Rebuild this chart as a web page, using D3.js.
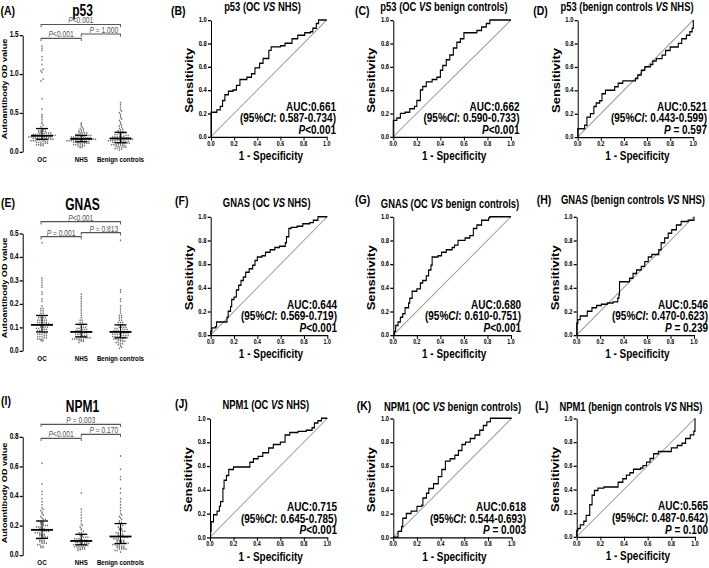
<!DOCTYPE html>
<html><head><meta charset="utf-8">
<script src="https://cdn.jsdelivr.net/npm/d3@7"></script>
<style>body{margin:0;background:#fff}svg{display:block}text{font-family:Arial,"Liberation Sans",Helvetica,sans-serif}</style>
</head><body><svg id="c" width="709" height="568"></svg>
<script>
// ---------------- DATA ----------------
const groups = ["OC", "NHS", "Benign controls"];

const p53_OC = [1.36,1.33,1.30,1.22,1.18,1.12,1.06,1.04,1.02,0.93,0.91,0.68,0.55,0.48,0.46,0.44,0.41,0.38,0.36,0.34,0.32,0.30,0.29,0.28,
  0.27,0.27,0.26,0.26,0.25,0.25,0.24,0.24,0.24,0.23,0.23,0.23,0.22,0.22,0.22,0.21,0.21,0.21,0.21,0.20,0.20,0.20,0.20,0.19,0.19,0.19,0.19,0.19,
  0.18,0.18,0.18,0.18,0.18,0.17,0.17,0.17,0.17,0.16,0.16,0.16,0.16,0.15,0.15,0.15,0.15,0.14,0.14,0.14,0.13,0.13,0.13,0.12,0.12,0.12,0.11,0.11,0.10,0.10,0.09,0.09,0.08,0.08];
const p53_NHS = [0.37,0.35,0.33,0.31,0.30,0.29,0.28,0.27,0.26,0.25,0.25,0.24,0.24,0.23,0.23,0.22,0.22,0.21,0.21,0.21,0.20,0.20,0.20,0.19,0.19,0.19,0.19,
  0.18,0.18,0.18,0.18,0.17,0.17,0.17,0.17,0.17,0.16,0.16,0.16,0.16,0.16,0.15,0.15,0.15,0.15,0.15,0.14,0.14,0.14,0.14,0.13,0.13,0.13,0.13,
  0.12,0.12,0.12,0.12,0.11,0.11,0.11,0.10,0.10,0.10,0.09,0.09,0.08,0.08,0.07,0.07,0.06,0.05];
const p53_Benign = [0.63,0.60,0.57,0.54,0.52,0.50,0.48,0.46,0.44,0.42,0.40,0.38,0.36,0.34,0.33,0.31,0.30,0.29,0.28,0.27,0.26,0.25,0.25,0.24,0.24,0.23,0.23,
  0.22,0.22,0.21,0.21,0.20,0.20,0.20,0.19,0.19,0.19,0.18,0.18,0.18,0.18,0.17,0.17,0.17,0.17,0.16,0.16,0.16,0.16,0.15,0.15,0.15,0.15,0.14,0.14,0.14,0.14,
  0.13,0.13,0.13,0.13,0.12,0.12,0.12,0.12,0.11,0.11,0.11,0.10,0.10,0.10,0.09,0.09,0.09,0.08,0.08,0.08,0.07,0.07,0.06,0.06,0.05,0.05,0.04,0.04,0.03,0.02];

const gnas_OC = [0.46,0.31,0.30,0.29,0.28,0.27,0.25,0.24,0.22,0.21,0.19,0.18,0.18,0.17,0.17,0.16,0.16,0.15,0.15,0.15,0.14,0.14,0.14,0.14,0.13,0.13,0.13,0.13,0.13,
  0.12,0.12,0.12,0.12,0.12,0.115,0.115,0.11,0.11,0.11,0.11,0.11,0.105,0.105,0.10,0.10,0.10,0.10,0.095,0.095,0.09,0.09,0.09,0.085,0.085,0.08,0.08,0.08,
  0.075,0.075,0.07,0.07,0.07,0.065,0.065,0.06,0.06,0.06,0.055,0.055,0.05,0.05,0.05,0.045,0.045,0.04];
const gnas_NHS = [0.24,0.23,0.22,0.21,0.20,0.19,0.18,0.17,0.16,0.15,0.14,0.13,0.13,0.12,0.12,0.11,0.11,0.11,0.10,0.10,0.10,0.095,0.095,0.09,0.09,0.09,
  0.085,0.085,0.085,0.08,0.08,0.08,0.08,0.075,0.075,0.075,0.07,0.07,0.07,0.065,0.065,0.065,0.06,0.06,0.06,0.055,0.055,0.055,0.055,
  0.05,0.05,0.05,0.05,0.05,0.045,0.045,0.045,0.04,0.04,0.035];
const gnas_Benign = [0.47,0.26,0.25,0.22,0.21,0.19,0.18,0.17,0.16,0.15,0.15,0.14,0.14,0.13,0.13,0.12,0.12,0.12,0.11,0.11,0.11,0.10,0.10,0.10,0.10,
  0.095,0.095,0.09,0.09,0.09,0.09,0.085,0.085,0.085,0.08,0.08,0.08,0.08,0.08,0.075,0.075,0.075,0.075,0.07,0.07,0.07,0.07,0.065,0.065,0.065,0.065,
  0.06,0.06,0.06,0.06,0.055,0.055,0.055,0.05,0.05,0.05,0.05,0.045,0.045,0.045,0.04,0.04,0.04,0.035,0.035,0.03,0.03,0.025,0.02,0.015,0.01];

const npm1_OC = [0.62,0.48,0.43,0.41,0.38,0.36,0.34,0.32,0.31,0.30,0.29,0.28,0.27,0.26,0.25,0.24,0.24,0.23,0.23,0.22,0.22,0.21,0.21,0.20,0.20,0.20,
  0.19,0.19,0.19,0.18,0.18,0.18,0.17,0.17,0.17,0.17,0.16,0.16,0.16,0.16,0.15,0.15,0.15,0.14,0.14,0.14,0.13,0.13,0.13,0.12,0.12,0.12,
  0.11,0.11,0.11,0.10,0.10,0.10,0.09,0.09,0.09,0.08,0.08,0.08,0.07,0.07,0.06,0.06,0.05,0.05];
const npm1_NHS = [0.42,0.31,0.29,0.27,0.25,0.23,0.21,0.20,0.19,0.18,0.17,0.16,0.15,0.15,0.14,0.14,0.13,0.13,0.12,0.12,0.12,0.11,0.11,0.11,0.11,
  0.10,0.10,0.10,0.10,0.095,0.095,0.09,0.09,0.09,0.09,0.085,0.085,0.08,0.08,0.08,0.075,0.075,0.07,0.07,0.07,0.065,0.065,0.06,0.06,0.06,
  0.055,0.055,0.05,0.05,0.045,0.045,0.04,0.04,0.035,0.03];
const npm1_Benign = [0.67,0.58,0.53,0.51,0.45,0.42,0.38,0.36,0.34,0.32,0.30,0.28,0.27,0.26,0.25,0.24,0.23,0.22,0.22,0.21,0.20,0.20,0.19,0.18,0.18,
  0.17,0.17,0.16,0.16,0.15,0.15,0.15,0.14,0.14,0.14,0.13,0.13,0.13,0.12,0.12,0.12,0.12,0.11,0.11,0.11,0.10,0.10,0.10,0.10,0.09,0.09,0.09,0.09,
  0.08,0.08,0.08,0.08,0.07,0.07,0.07,0.07,0.06,0.06,0.06,0.06,0.05,0.05,0.05,0.05,0.04,0.04,0.04,0.04,0.03,0.03,0.02];

const scatterTitles = ["p53", "GNAS", "NPM1"];
const scatterMax = [1.5, 0.5, 0.8];
const scatterTicks = [[0, 0.5, 1.0, 1.5], [0, 0.1, 0.2, 0.3, 0.4, 0.5], [0, 0.2, 0.4, 0.6, 0.8]];
const pTop = ["P<0.001", "P<0.001", "P = 0.003"];
const pLeft = ["P<0.001", "P = 0.001", "P<0.001"];
const pRight = ["P = 1.000", "P = 0.813", "P = 0.170"];

const rocB = [[0,0],[0,0.21],[0.05,0.23],[0.08,0.26],[0.10,0.31],[0.12,0.36],[0.15,0.39],[0.19,0.40],[0.22,0.44],[0.25,0.49],[0.31,0.51],[0.35,0.54],[0.38,0.59],[0.42,0.63],[0.45,0.67],[0.50,0.74],[0.52,0.77],[0.60,0.78],[0.64,0.80],[0.70,0.84],[0.75,0.87],[0.81,0.89],[0.86,0.90],[0.88,0.93],[0.91,0.97],[0.93,1.0],[1,1]];
const rocC = [[0,0],[0,0.14],[0.03,0.16],[0.06,0.20],[0.10,0.21],[0.14,0.24],[0.18,0.26],[0.20,0.31],[0.23,0.40],[0.25,0.43],[0.28,0.47],[0.33,0.49],[0.37,0.51],[0.40,0.57],[0.42,0.61],[0.45,0.66],[0.48,0.70],[0.51,0.76],[0.54,0.81],[0.57,0.84],[0.60,0.89],[0.68,0.89],[0.71,0.91],[0.75,0.94],[0.79,0.97],[0.82,1.0],[1,1]];
const rocD = [[0,0],[0,0.07],[0.05,0.07],[0.06,0.10],[0.08,0.17],[0.11,0.20],[0.14,0.26],[0.16,0.29],[0.19,0.31],[0.21,0.37],[0.24,0.40],[0.29,0.40],[0.32,0.43],[0.35,0.46],[0.39,0.48],[0.47,0.48],[0.50,0.50],[0.52,0.53],[0.55,0.57],[0.58,0.60],[0.63,0.62],[0.65,0.65],[0.68,0.67],[0.73,0.70],[0.76,0.74],[0.80,0.77],[0.84,0.77],[0.87,0.80],[0.90,0.84],[0.94,0.87],[0.97,0.90],[0.99,0.93],[1,1]];
const rocF = [[0,0],[0,0.03],[0.01,0.06],[0.04,0.07],[0.05,0.11],[0.11,0.11],[0.14,0.15],[0.15,0.20],[0.17,0.24],[0.18,0.30],[0.20,0.32],[0.22,0.38],[0.24,0.42],[0.26,0.46],[0.28,0.49],[0.30,0.53],[0.33,0.56],[0.36,0.59],[0.38,0.63],[0.40,0.66],[0.44,0.67],[0.47,0.70],[0.51,0.72],[0.55,0.74],[0.59,0.75],[0.64,0.78],[0.65,0.83],[0.67,0.90],[0.69,0.91],[0.74,0.92],[0.79,0.94],[0.85,0.95],[0.88,0.97],[0.92,1.0],[1,1]];
const rocG = [[0,0],[0.01,0.03],[0.02,0.08],[0.04,0.11],[0.06,0.15],[0.08,0.18],[0.10,0.23],[0.13,0.27],[0.14,0.31],[0.16,0.37],[0.20,0.39],[0.23,0.44],[0.25,0.46],[0.28,0.50],[0.30,0.55],[0.32,0.59],[0.33,0.66],[0.38,0.67],[0.41,0.70],[0.45,0.72],[0.50,0.74],[0.52,0.76],[0.55,0.80],[0.61,0.82],[0.65,0.84],[0.68,0.90],[0.71,0.93],[0.75,0.97],[0.81,0.99],[0.82,1.0],[1,1]];
const rocH = [[0,0],[0,0.10],[0.01,0.13],[0.03,0.16],[0.07,0.16],[0.09,0.20],[0.13,0.23],[0.17,0.25],[0.21,0.26],[0.26,0.27],[0.31,0.28],[0.35,0.31],[0.36,0.34],[0.365,0.45],[0.44,0.45],[0.45,0.48],[0.48,0.52],[0.51,0.55],[0.55,0.58],[0.58,0.62],[0.61,0.66],[0.64,0.68],[0.67,0.68],[0.70,0.72],[0.72,0.78],[0.75,0.82],[0.78,0.86],[0.81,0.89],[0.85,0.93],[0.89,0.96],[0.95,0.97],[1.0,0.99],[1,1]];
const rocJ = [[0,0],[0.005,0.05],[0.01,0.13],[0.03,0.19],[0.06,0.22],[0.08,0.26],[0.09,0.30],[0.11,0.41],[0.12,0.48],[0.14,0.52],[0.16,0.57],[0.20,0.59],[0.31,0.59],[0.34,0.63],[0.37,0.66],[0.41,0.68],[0.45,0.71],[0.50,0.75],[0.54,0.78],[0.60,0.80],[0.64,0.86],[0.68,0.88],[0.75,0.89],[0.82,0.90],[0.87,0.92],[0.89,0.96],[0.92,0.98],[0.95,1.0],[1,1]];
const rocK = [[0,0],[0.03,0],[0.04,0.05],[0.07,0.09],[0.08,0.16],[0.11,0.20],[0.15,0.22],[0.20,0.26],[0.24,0.27],[0.25,0.33],[0.28,0.37],[0.30,0.41],[0.34,0.45],[0.38,0.51],[0.41,0.57],[0.44,0.64],[0.48,0.66],[0.52,0.69],[0.55,0.73],[0.58,0.78],[0.61,0.80],[0.65,0.83],[0.69,0.86],[0.73,0.90],[0.76,0.94],[0.79,0.97],[0.82,1.0],[1,1]];
const rocL = [[0,0],[0,0.05],[0.01,0.07],[0.03,0.10],[0.06,0.13],[0.08,0.18],[0.11,0.27],[0.13,0.35],[0.15,0.39],[0.18,0.41],[0.23,0.42],[0.32,0.42],[0.35,0.46],[0.39,0.49],[0.42,0.52],[0.45,0.54],[0.48,0.57],[0.54,0.58],[0.56,0.60],[0.59,0.63],[0.62,0.66],[0.65,0.70],[0.69,0.72],[0.76,0.72],[0.80,0.75],[0.85,0.77],[0.89,0.79],[0.92,0.83],[0.96,0.86],[0.99,0.89],[1,1]];

const rocMarker = ["p53","p53","p53","GNAS","GNAS","GNAS","NPM1","NPM1","NPM1"];
const rocCompA = ["OC","OC","benign controls","OC","OC","benign controls","OC","OC","benign controls"];
const rocCompB = ["NHS","benign controls","NHS","NHS","benign controls","NHS","NHS","benign controls","NHS"];
const rocAUC = ["0.661","0.662","0.521","0.644","0.680","0.546","0.715","0.618","0.565"];
const rocCI = ["0.587-0.734","0.590-0.733","0.443-0.599","0.569-0.719","0.610-0.751","0.470-0.623","0.645-0.785","0.544-0.693","0.487-0.642"];
const rocP = ["<0.001","<0.001"," = 0.597","<0.001","<0.001"," = 0.239","<0.001"," = 0.003"," = 0.100"];
const rocTickVals = [0, 0.2, 0.4, 0.6, 0.8, 1.0];

// ---------------- DRAWING ----------------
const SY = 1.3;              // the figure is stretched vertically
const Y = v => v / SY;
const svg = d3.select("#c");
const root = svg.append("g").attr("transform", `scale(1,${SY})`);

function addText(x, y, parts, o) {
  const t = root.append("text").attr("x", x).attr("y", Y(y))
    .attr("font-size", o.size).attr("font-weight", o.weight || "bold")
    .attr("text-anchor", o.anchor || "start").attr("fill", o.fill || "#000");
  if (o.rotate) t.attr("transform", `rotate(-90,${x},${Y(y)})`);
  if (typeof parts === "string") parts = [[parts, false]];
  parts.forEach(p => t.append("tspan").text(p[0]).attr("font-style", p[1] ? "italic" : "normal"));
  return t;
}
function pParts(s) { return [["P", true], [s.slice(1), false]]; }

function styleAxis(g) {
  g.selectAll("path.domain").attr("stroke", "#000").attr("stroke-width", 1);
  g.selectAll(".tick line").attr("stroke", "#000").attr("stroke-width", 1);
}

// ---- scatter panels ----
const scatterData = [[p53_OC, p53_NHS, p53_Benign], [gnas_OC, gnas_NHS, gnas_Benign], [npm1_OC, npm1_NHS, npm1_Benign]];
const scatterLayout = [
  {label: "(A)", lx: 0.5, ly: 15.5, tY: 16.5, y0: 151.7, y1: 35, ylabY: 89, top: 24.5, left: 38.3, right: 34},
  {label: "(E)", lx: 1, ly: 207, tY: 210, y0: 350.7, y1: 233.3, ylabY: 288, top: 221.7, left: 236.7, right: 232.7},
  {label: "(I)", lx: 1, ly: 405.5, tY: 412.5, y0: 555, y1: 436.7, ylabY: 493, top: 424.3, left: 438.3, right: 434.3}
];

scatterLayout.forEach((L, i) => {
  const axX = 22.7;
  const x = d3.scalePoint().domain(groups).range([42, 120.5]);
  const y = d3.scaleLinear().domain([0, scatterMax[i]]).range([Y(L.y0), Y(L.y1)]);
  const ag = root.append("g").attr("transform", `translate(${axX},0)`)
    .call(d3.axisLeft(y).tickValues(scatterTicks[i]).tickSize(3).tickSizeOuter(0).tickFormat(""));
  styleAxis(ag);
  scatterTicks[i].forEach(v => addText(axX - 4, y(v) * SY + 2.3, d3.format(".1f")(v), {size: 6.5, anchor: "end"}));

  // dots (swarm layout)
  scatterData[i].forEach((vals, gi) => {
    const cx = x(groups[gi]);
    const bins = d3.group(vals.slice().sort(d3.ascending), v => Math.round(y(v) * SY / 2.0));
    const pts = [];
    bins.forEach(arr => {
      const n = arr.length;
      arr.forEach((v, k) => pts.push({v, dx: (k - (n - 1) / 2) * 2.2}));
    });
    root.append("g").selectAll("circle").data(pts).join("circle")
      .attr("cx", d => cx + d.dx).attr("cy", d => y(d.v)).attr("r", 0.75).attr("fill", "#7a7a7a");
    const s = vals.slice().sort(d3.ascending);
    const med = d3.quantile(s, 0.5), q1 = d3.quantile(s, 0.25), q3 = d3.quantile(s, 0.75);
    const lg = root.append("g").attr("stroke", "#000");
    lg.append("line").attr("x1", cx - 11).attr("x2", cx + 11).attr("y1", y(med)).attr("y2", y(med)).attr("stroke-width", 1.4);
    [q1, q3].forEach(q => lg.append("line").attr("x1", cx - 6).attr("x2", cx + 6).attr("y1", y(q)).attr("y2", y(q)).attr("stroke-width", 1));
    lg.append("line").attr("x1", cx).attr("x2", cx).attr("y1", y(q1)).attr("y2", y(q3)).attr("stroke-width", 1);
    addText(cx, L.y0 + 10.5, groups[gi], {size: 6.2, anchor: "middle"});
  });

  // brackets
  const xa = x("OC") - 1, xb = x("NHS"), xc = x("Benign controls");
  const br = (x1, x2, ly, label, tx) => {
    root.append("path").attr("d", `M${x1},${Y(ly + 2.8)}V${Y(ly)}H${x2}V${Y(ly + 2.8)}`)
      .attr("fill", "none").attr("stroke", "#555").attr("stroke-width", 0.9);
    addText(tx, ly - 1.1, pParts(label), {size: 6.7, weight: "normal", anchor: "middle", fill: "#555"});
  };
  br(xa, xc, L.top, pTop[i], (xa + xc) / 2);
  br(xa, xb, L.left, pLeft[i], (xa + xb) / 2);
  br(xb, xc, L.right, pRight[i], (xb + xc) / 2 + 3);

  addText(82.5, L.tY, scatterTitles[i], {size: 12, anchor: "middle"});
  addText(L.lx, L.ly, L.label, {size: 10.5});
  addText(7.5, L.ylabY, "Autoantibody OD value", {size: 7, anchor: "middle", rotate: true});
});

// ---- ROC panels ----
const rocData = [rocB, rocC, rocD, rocF, rocG, rocH, rocJ, rocK, rocL];
const rocLayout = [
  {label: "(B)", lx: 171, ly: 15.5, tx: 262.5, ty: 11.5, x0: 211, x1: 326.7, y1: 20, y0: 136.7, sx: 336},
  {label: "(C)", lx: 355, ly: 15.5, tx: 444, ty: 11.5, x0: 393.3, x1: 511, y1: 20, y0: 136.7, sx: 519.5},
  {label: "(D)", lx: 533.3, ly: 15.5, tx: 627, ty: 11.5, x0: 577.7, x1: 693.3, y1: 20, y0: 137, sx: 707},
  {label: "(F)", lx: 175, ly: 205.5, tx: 266.7, ty: 207.5, x0: 210.7, x1: 327.3, y1: 216.7, y0: 335, sx: 337},
  {label: "(G)", lx: 355, ly: 204, tx: 450, ty: 208.5, x0: 393.3, x1: 511, y1: 216.7, y0: 335, sx: 521},
  {label: "(H)", lx: 536.7, ly: 204, tx: 633, ty: 204.5, x0: 576.7, x1: 694, y1: 216.7, y0: 335, sx: 708},
  {label: "(J)", lx: 175, ly: 408, tx: 265.8, ty: 409, x0: 210, x1: 327.3, y1: 418.3, y0: 537.3, sx: 337},
  {label: "(K)", lx: 356.7, ly: 410.5, tx: 452.5, ty: 411, x0: 393.3, x1: 511.7, y1: 418.3, y0: 537.3, sx: 526},
  {label: "(L)", lx: 535, ly: 410.5, tx: 631, ty: 411, x0: 576.7, x1: 695, y1: 418.3, y0: 536.7, sx: 708}
];

rocLayout.forEach((L, i) => {
  const x = d3.scaleLinear().domain([0, 1]).range([L.x0, L.x1]);
  const y = d3.scaleLinear().domain([0, 1]).range([Y(L.y0), Y(L.y1)]);
  // diagonal
  root.append("line").attr("x1", x(0)).attr("y1", y(0)).attr("x2", x(1)).attr("y2", y(1))
    .attr("stroke", "#999").attr("stroke-width", 0.8);
  // axes
  const gx = root.append("g").attr("transform", `translate(0,${Y(L.y0)})`)
    .call(d3.axisBottom(x).tickValues(rocTickVals).tickSize(3).tickSizeOuter(0).tickFormat(""));
  const gy = root.append("g").attr("transform", `translate(${L.x0},0)`)
    .call(d3.axisLeft(y).tickValues(rocTickVals).tickSize(3).tickSizeOuter(0).tickFormat(""));
  styleAxis(gx); styleAxis(gy);
  rocTickVals.forEach(v => {
    addText(x(v), L.y0 + 9.2, d3.format(".1f")(v), {size: 5.3, anchor: "middle"});
    addText(L.x0 - 4.3, y(v) * SY + 2.3, d3.format(".1f")(v), {size: 5.8, anchor: "end"});
  });
  // curve
  const line = d3.line().x(d => x(d[0])).y(d => y(d[1])).curve(d3.curveStepAfter);
  root.append("path").datum(rocData[i]).attr("d", line)
    .attr("fill", "none").attr("stroke", "#000").attr("stroke-width", 1.1);
  // texts
  addText(L.tx, L.ty, [[rocMarker[i] + " (" + rocCompA[i] + " ", false], ["VS", true], [" " + rocCompB[i] + ")", false]],
    {size: 9.4, anchor: "middle"});
  addText(L.lx, L.ly, L.label, {size: 10.5});
  const h = L.y0 - L.y1;
  addText(L.sx, L.y0 - h * 0.222, "AUC:" + rocAUC[i], {size: 10, anchor: "end"});
  addText(L.sx, L.y0 - h * 0.124, [["(95%", false], ["CI", true], [": " + rocCI[i] + ")", false]], {size: 10, anchor: "end"});
  addText(L.sx, L.y0 - h * 0.026, [["P", true], [rocP[i], false]], {size: 10, anchor: "end"});
  addText((L.x0 + L.x1) / 2 + 2, L.y0 + 23.3, "1 - Specificity", {size: 10, anchor: "middle"});
  addText(L.x0 - 18, (L.y0 + L.y1) / 2 + 2, "Sensitivity", {size: 10, anchor: "middle", rotate: true});
});
</script>
</body></html>
